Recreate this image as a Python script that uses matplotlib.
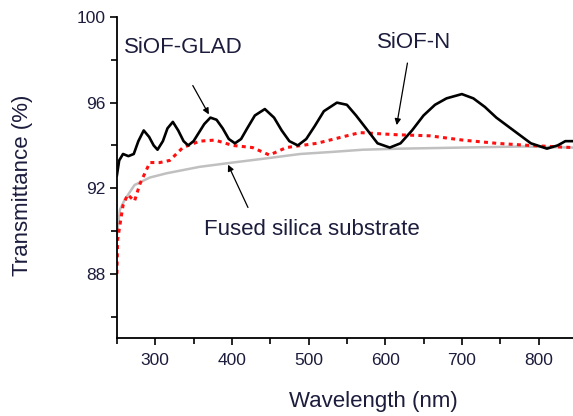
import matplotlib
matplotlib.use("Agg")
import matplotlib.pyplot as plt
from matplotlib.ticker import MultipleLocator

plt.rcParams['font.family'] = ['Liberation Sans', 'DejaVu Sans']

# SiOF-GLAD / SiOF-N (black solid)
wl_black = [250, 253, 258, 265, 272, 278, 285, 292, 298, 303, 310, 316, 323, 330, 337,
            343, 350, 357, 364, 372, 380, 388, 396, 404, 412, 420, 430, 443, 455, 465,
            475, 486, 497, 508, 520, 537, 550, 562, 575, 590, 606, 620, 635, 650, 665,
            680, 700, 715, 730, 745, 760, 775, 790, 811, 825, 835, 845]
t_black = [92.6, 93.3, 93.6, 93.5, 93.6, 94.2, 94.7, 94.4, 94.0, 93.8, 94.2, 94.8, 95.1, 94.7, 94.2,
           94.0, 94.2, 94.6, 95.0, 95.3, 95.2, 94.8, 94.3, 94.1, 94.3, 94.8, 95.4, 95.7, 95.3, 94.7,
           94.2, 94.0, 94.3, 94.9, 95.6, 96.0, 95.9, 95.4, 94.8, 94.1, 93.9, 94.1, 94.7, 95.4, 95.9,
           96.2, 96.4, 96.2, 95.8, 95.3, 94.9, 94.5, 94.1, 93.85, 94.0, 94.2, 94.2]

# red dotted curve
wl_red = [250, 251, 254, 258, 264, 273, 280, 293, 306, 319, 336, 358, 378, 401, 427,
          449, 471, 511, 550, 567, 615, 658, 701, 745, 788, 845]
t_red = [88.0, 89.6, 90.3, 91.2, 91.7, 91.4, 92.2, 93.2, 93.2, 93.3, 93.9, 94.2, 94.25, 94.0, 93.9,
         93.55, 93.9, 94.1, 94.45, 94.6, 94.5, 94.45, 94.25, 94.1, 94.0, 93.9]

# fused silica substrate (grey)
wl_grey = [250, 254, 260, 273, 293, 315, 358, 401, 446, 489, 532, 571, 620, 701, 780, 845]
t_grey = [89.8, 91.0, 91.45, 92.15, 92.5, 92.7, 93.0, 93.2, 93.4, 93.6, 93.7, 93.8, 93.85, 93.9, 93.95, 93.9]

txt = '#1c1c3c'

fig = plt.figure(figsize=(5.73, 4.16), dpi=100)
ax = fig.add_axes([0.204, 0.1875, 0.796, 0.7715])

ax.plot(wl_grey, t_grey, color='#c0c0c0', lw=1.8)
ax.plot(wl_red, t_red, color='#ff1010', lw=2.2, linestyle=(0, (1.3, 1.4)))
ax.plot(wl_black, t_black, color='black', lw=1.9)

ax.set_xlim(250, 845)
ax.set_ylim(85, 100)
ax.set_xticks([300, 400, 500, 600, 700, 800])
ax.set_yticks([88, 92, 96, 100])
ax.xaxis.set_minor_locator(MultipleLocator(50))
ax.yaxis.set_minor_locator(MultipleLocator(2))

for s in ['top', 'right']:
    ax.spines[s].set_visible(False)
for s in ['left', 'bottom']:
    ax.spines[s].set_linewidth(1.3)

ax.tick_params(which='major', direction='out', length=5, width=1.2, labelsize=12.5,
               labelcolor=txt, pad=3)
ax.tick_params(axis='x', which='major', pad=6)
ax.tick_params(which='minor', direction='out', length=4, width=1.2)

# axis titles
fig.text(373 / 573, 1 - 402 / 416, 'Wavelength (nm)', fontsize=16, color=txt,
         ha='center', va='center')
fig.text(23 / 573, 1 - 185 / 416, 'Transmittance (%)', fontsize=16, color=txt,
         ha='center', va='center', rotation=90)

# curve labels
ax.text(337, 98.6, 'SiOF-GLAD', fontsize=16, color=txt, ha='center', va='center')
ax.text(638, 98.8, 'SiOF-N', fontsize=16, color=txt, ha='center', va='center')
ax.text(505, 90.05, 'Fused silica substrate', fontsize=16, color=txt, ha='center', va='center')

arr = dict(arrowstyle='-|>', color='black', lw=0.9, mutation_scale=9, shrinkA=0, shrinkB=0)
ax.annotate('', xy=(370, 95.45), xytext=(349, 96.8), arrowprops=arr)
ax.annotate('', xy=(615, 94.95), xytext=(629, 97.85), arrowprops=arr)
ax.annotate('', xy=(395, 93.1), xytext=(421, 91.1), arrowprops=arr)

fig.savefig('out.png', dpi=100)
